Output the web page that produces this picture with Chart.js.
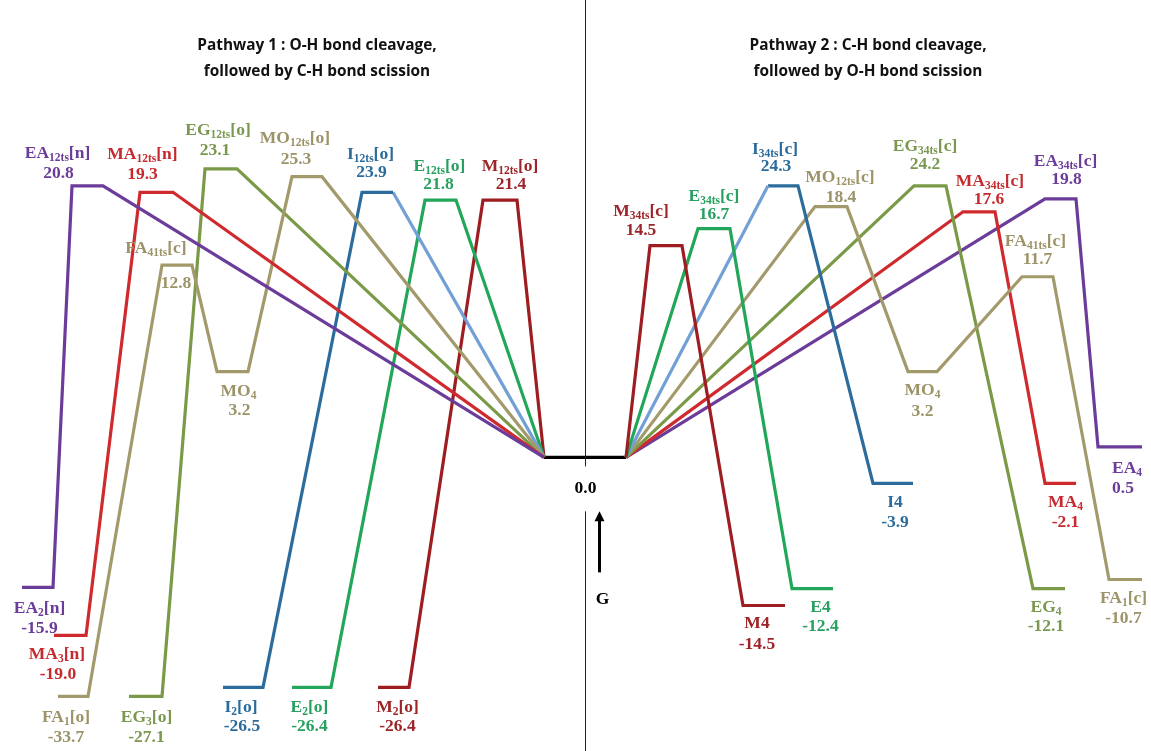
<!DOCTYPE html>
<html>
<head>
<meta charset="utf-8">
<script src="https://cdn.jsdelivr.net/npm/chart.js@4.4.1/dist/chart.umd.min.js"></script>
<style>
  html, body { margin: 0; padding: 0; background: #fff; overflow: hidden; }
  canvas { display: block; }
</style>
</head>
<body>
<canvas id="chart" width="1151" height="751"></canvas>
<script>
// ---------- data ----------
// reaction coordinate (x) and drawn level (y) of each path
// pathway 1 (O-H first): product -> TS -> ... -> 0.0
const EA1_X = [22, 53, 72, 103, 544];
const EA1_Y = [-10.0, -10.0, 20.9, 20.9, 0];
const MA1_X = [54, 86, 140, 173, 544];
const MA1_Y = [-13.7, -13.7, 20.4, 20.4, 0];
const FA1_X = [58, 88, 162, 192, 217, 248, 292, 322, 544];
const FA1_Y = [-18.4, -18.4, 14.8, 14.8, 6.6, 6.6, 21.6, 21.6, 0];
const EG1_X = [129, 162, 205, 237, 544];
const EG1_Y = [-18.4, -18.4, 22.2, 22.2, 0];
const I1_X = [223, 263, 362, 393];
const I1_Y = [-17.7, -17.7, 20.4, 20.4];
const I1B_X = [393, 544];
const I1B_Y = [20.4, 0];
const E1_X = [292, 331, 425, 456, 544];
const E1_Y = [-17.7, -17.7, 19.8, 19.8, 0];
const M1_X = [378, 409, 483, 517, 544];
const M1_Y = [-17.7, -17.7, 19.8, 19.8, 0];
// reactant plateau
const R_X = [544, 626];
const R_Y = [0, 0];
// pathway 2 (C-H first): 0.0 -> TS -> ... -> product
const M2_X = [626, 650, 682, 743, 785];
const M2_Y = [0, 16.3, 16.3, -11.4, -11.4];
const E2_X = [626, 698, 730, 792, 833];
const E2_Y = [0, 17.6, 17.6, -10.1, -10.1];
const I2_X = [626, 768];
const I2_Y = [0, 20.9];
const I2B_X = [768, 798, 873, 913];
const I2B_Y = [20.9, 20.9, -2.0, -2.0];
const MO2_X = [626, 815, 847, 908, 937, 1022, 1053, 1109, 1142];
const MO2_Y = [0, 19.3, 19.3, 6.6, 6.6, 13.9, 13.9, -9.4, -9.4];
const EG2_X = [626, 914, 946, 1033, 1065];
const EG2_Y = [0, 20.9, 20.9, -10.1, -10.1];
const MA2_X = [626, 963, 995, 1045, 1076];
const MA2_Y = [0, 18.9, 18.9, -2.0, -2.0];
const EA2_X = [626, 1045, 1076, 1098, 1142];
const EA2_Y = [0, 19.9, 19.9, 0.8, 0.8];

// species labels (name, subscript, suffix) and printed energies
const LABEL_TEXT = [
  ["EA", "12ts", "[n]"], ["MA", "12ts", "[n]"], ["EG", "12ts", "[o]"], ["MO", "12ts", "[o]"],
  ["I", "12ts", "[o]"], ["E", "12ts", "[o]"], ["M", "12ts", "[o]"], ["FA", "41ts", "[c]"],
  ["MO", "4", ""], ["EA", "2", "[n]"], ["MA", "3", "[n]"], ["FA", "1", "[o]"],
  ["EG", "3", "[o]"], ["I", "2", "[o]"], ["E", "2", "[o]"], ["M", "2", "[o]"],
  ["M", "34ts", "[c]"], ["E", "34ts", "[c]"], ["I", "34ts", "[c]"], ["MO", "12ts", "[c]"],
  ["EG", "34ts", "[c]"], ["MA", "34ts", "[c]"], ["EA", "34ts", "[c]"], ["FA", "41ts", "[c]"],
  ["MO", "4", ""], ["M4", "", ""], ["E4", "", ""], ["I4", "", ""],
  ["EG", "4", ""], ["MA", "4", ""], ["EA", "4", ""], ["FA", "1", "[c]"],
];
const LABEL_VALUE = [
  "20.8", "19.3", "23.1", "25.3", "23.9", "21.8", "21.4", "12.8",
  "3.2", "-15.9", "-19.0", "-33.7", "-27.1", "-26.5", "-26.4", "-26.4",
  "14.5", "16.7", "24.3", "18.4", "24.2", "17.6", "19.8", "11.7",
  "3.2", "-14.5", "-12.4", "-3.9", "-12.1", "-2.1", "0.5", "-10.7",
];

// ---------- styles / layout ----------
const COL = {
  EA: "#6b3c99", MA: "#cf2a2e", FA: "#a39a6c", EG: "#7b9a47",
  I: "#2b6c9c", Ilight: "#72a0d6", E: "#22a75a", M: "#9d1d21", R: "#000",
};
const TXT = {
  EA: "#6b3c99", MA: "#c62a2e", FA: "#9c9368", EG: "#7a9850",
  I: "#2b6c9c", E: "#27a060", M: "#9d2529",
};

const PATHS = [
  ["EA1", EA1_X, EA1_Y, COL.EA], ["MA1", MA1_X, MA1_Y, COL.MA],
  ["FA1", FA1_X, FA1_Y, COL.FA], ["EG1", EG1_X, EG1_Y, COL.EG],
  ["I1", I1_X, I1_Y, COL.I], ["I1B", I1B_X, I1B_Y, COL.Ilight],
  ["E1", E1_X, E1_Y, COL.E], ["M1", M1_X, M1_Y, COL.M],
  ["M2", M2_X, M2_Y, COL.M], ["E2", E2_X, E2_Y, COL.E],
  ["I2", I2_X, I2_Y, COL.Ilight], ["I2B", I2B_X, I2B_Y, COL.I],
  ["MO2", MO2_X, MO2_Y, COL.FA], ["EG2", EG2_X, EG2_Y, COL.EG],
  ["MA2", MA2_X, MA2_Y, COL.MA], ["EA2", EA2_X, EA2_Y, COL.EA],
  ["R", R_X, R_Y, COL.R],
];

// label anchor: [path, plateau start index, colour key, name dx, dy, value dx, dy]
const LABEL_POS = [
  ["EA1", 2, "EA", -30, -34, -29, -14], ["MA1", 2, "MA", -14, -39, -14, -19],
  ["EG1", 2, "EG", -3, -40, -6, -20], ["FA1", 6, "FA", -12, -40, -11, -19],
  ["I1", 2, "I", -7, -39, -6, -21], ["E1", 2, "E", -1, -35, -2, -17],
  ["M1", 2, "M", 10, -35, 11, -17], ["FA1", 2, "FA", -21, -18, -1, 17],
  ["FA1", 4, "FA", 6, 18, 7, 37], ["EA1", 0, "EA", 2, 20, 2, 40],
  ["MA1", 0, "MA", -13, 18, -12, 38], ["FA1", 0, "FA", -7, 20, -7, 40],
  ["EG1", 0, "EG", 1, 20, 1, 40], ["I1", 0, "I", -2, 19, -1, 38],
  ["E1", 0, "E", -2, 19, -2, 38], ["M1", 0, "M", 4, 19, 4, 38],
  ["M2", 1, "M", -25, -36, -25, -17], ["E2", 1, "E", 0, -34, 0, -16],
  ["I2B", 0, "I", -8, -38, -7, -21], ["MO2", 1, "FA", 9, -31, 10, -11],
  ["EG2", 1, "EG", -5, -41, -5, -23], ["MA2", 1, "MA", 11, -32, 10, -14],
  ["EA2", 1, "EA", 5, -39, 6, -21], ["MO2", 5, "FA", -2, -37, 0, -19],
  ["MO2", 3, "FA", 0, 17, 0, 38], ["M2", 3, "M", -7, 17, -7, 38],
  ["E2", 3, "E", 8, 17, 8, 36], ["I2B", 2, "I", 2, 18, 2, 38],
  ["EG2", 3, "EG", -3, 17, -3, 36], ["MA2", 3, "MA", 5, 18, 5, 38],
  ["EA2", 3, "EA", 7, 20, 3, 40], ["MO2", 7, "FA", -2, 18, -2, 38],
];

const TITLES = [
  [317, ["Pathway 1 : O-H bond cleavage,", "followed by C-H bond scission"]],
  [868, ["Pathway 2 : C-H bond cleavage,", "followed by O-H bond scission"]],
];
const CENTER_X = 585;
const SERIF = '"Liberation Serif", "Times New Roman", serif';

// ---------- helpers ----------
function drawSpecies(ctx, cx, cy, parts, color) {
  const [main, sub, tail] = parts;
  ctx.font = "bold 17.5px " + SERIF;
  const wm = ctx.measureText(main).width;
  const wt = ctx.measureText(tail).width;
  ctx.font = "bold 11.5px " + SERIF;
  const ws = sub ? ctx.measureText(sub).width : 0;
  let x = cx - (wm + ws + wt) / 2;
  const base = cy + 6;
  ctx.fillStyle = color;
  ctx.textAlign = "left";
  ctx.textBaseline = "alphabetic";
  ctx.font = "bold 17.5px " + SERIF;
  ctx.fillText(main, x, base);
  x += wm;
  if (sub) {
    ctx.font = "bold 11.5px " + SERIF;
    ctx.fillText(sub, x, base + 3);
    x += ws;
  }
  ctx.font = "bold 17.5px " + SERIF;
  ctx.fillText(tail, x, base);
}

const decor = {
  id: "decor",
  afterDatasetsDraw(chart) {
    const { ctx, scales, chartArea } = chart;
    const xs = scales.x, ys = scales.y;
    const byKey = {};
    chart.data.datasets.forEach((d) => (byKey[d.key] = d));
    ctx.save();

    // divider and G arrow
    const dx = Math.round(xs.getPixelForValue(CENTER_X)) + 0.5;
    const y0 = ys.getPixelForValue(0);
    ctx.strokeStyle = "#222";
    ctx.lineWidth = 1;
    ctx.beginPath();
    ctx.moveTo(dx, chartArea.top);
    ctx.lineTo(dx, y0 + 9);
    ctx.moveTo(dx, y0 + 54);
    ctx.lineTo(dx, chartArea.bottom);
    ctx.stroke();

    const ax = dx + 14;
    ctx.strokeStyle = "#000";
    ctx.lineWidth = 3;
    ctx.beginPath();
    ctx.moveTo(ax, y0 + 115);
    ctx.lineTo(ax, y0 + 62);
    ctx.stroke();
    ctx.fillStyle = "#000";
    ctx.beginPath();
    ctx.moveTo(ax, y0 + 54);
    ctx.lineTo(ax - 5, y0 + 64);
    ctx.lineTo(ax + 5, y0 + 64);
    ctx.closePath();
    ctx.fill();

    ctx.font = "bold 17.5px " + SERIF;
    ctx.textAlign = "center";
    ctx.textBaseline = "alphabetic";
    ctx.fillText("0.0", dx, y0 + 36);
    ctx.fillText("G", ax + 3, y0 + 147);

    // titles
    ctx.font = 'bold 15.4px "Open Sans", Lato, sans-serif';
    ctx.fillStyle = "#111";
    TITLES.forEach(([x, lines]) => {
      const px = xs.getPixelForValue(x);
      ctx.fillText(lines[0], px, 50);
      ctx.fillText(lines[1], px, 76);
    });

    // species labels
    LABEL_POS.forEach((p, i) => {
      const [key, idx, ck, ndx, ndy, vdx, vdy] = p;
      const d = byKey[key].data;
      const mx = (xs.getPixelForValue(d[idx].x) + xs.getPixelForValue(d[idx + 1].x)) / 2;
      const my = ys.getPixelForValue(d[idx].y);
      const color = TXT[ck];
      drawSpecies(ctx, mx + ndx, my + ndy, LABEL_TEXT[i], color);
      ctx.font = "bold 17.5px " + SERIF;
      ctx.textAlign = "center";
      ctx.fillStyle = color;
      ctx.fillText(LABEL_VALUE[i], mx + vdx, my + vdy + 6);
    });
    ctx.restore();
  },
};

// ---------- chart ----------
document.addEventListener("DOMContentLoaded", () => {
  const datasets = PATHS.map(([key, xs, ys, color]) => ({
    key,
    data: xs.map((x, i) => ({ x, y: ys[i] })),
    showLine: true,
    borderColor: color,
    borderWidth: 3.2,
    pointRadius: 0,
    tension: 0,
    borderJoinStyle: "miter",
    fill: false,
  }));

  new Chart(document.getElementById("chart").getContext("2d"), {
    type: "scatter",
    data: { datasets },
    options: {
      responsive: false,
      animation: false,
      devicePixelRatio: 1,
      layout: { padding: 0 },
      scales: {
        x: { type: "linear", min: 0, max: 1151, display: false },
        y: { type: "linear", min: -22.6, max: 35.2, display: false },
      },
      plugins: { legend: { display: false }, tooltip: { enabled: false } },
    },
    plugins: [decor],
  });
});
</script>
</body>
</html>
